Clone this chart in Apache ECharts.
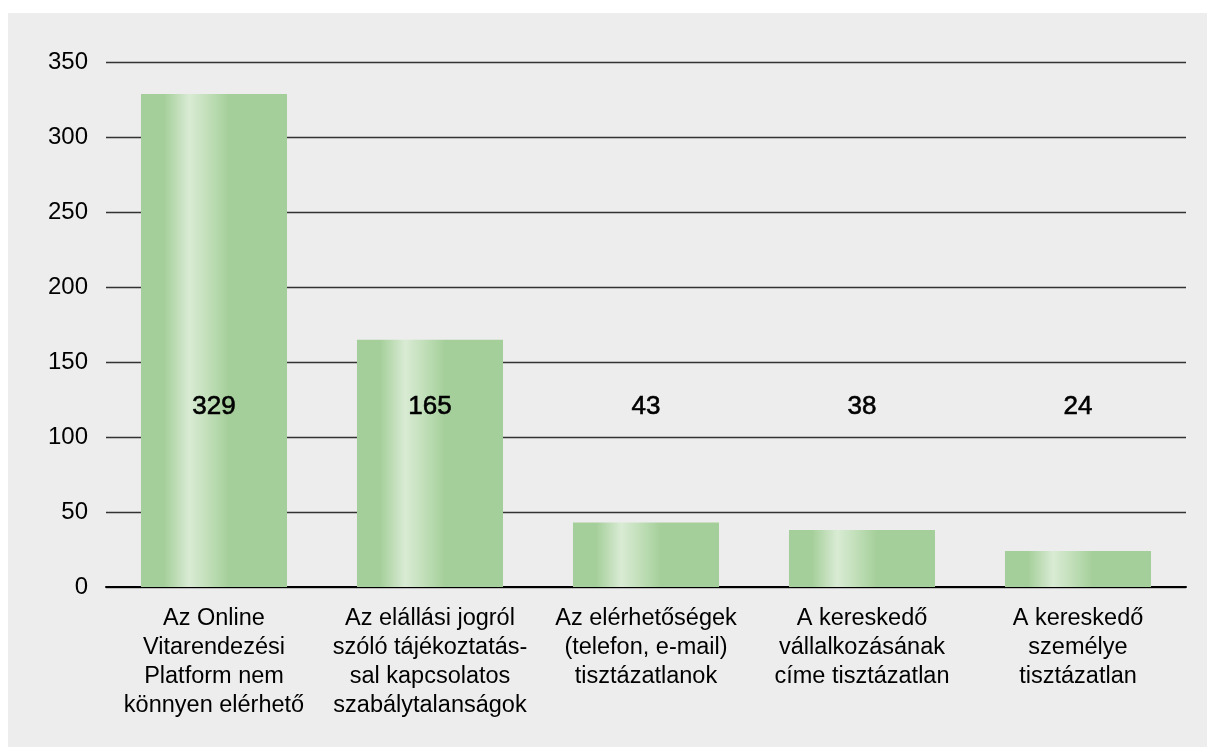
<!DOCTYPE html>
<html>
<head>
<meta charset="utf-8">
<script src="https://cdn.jsdelivr.net/npm/echarts@6/dist/echarts.min.js"></script>
<style>
  html, body { margin: 0; padding: 0; background: #ffffff; }
  #chart { position: absolute; left: 8px; top: 13px; width: 1199px; height: 734px; background: #ededed; }
</style>
</head>
<body>
<div id="chart"></div>
<script>
const categories = [
  'Az Online\nVitarendezési\nPlatform nem\nkönnyen elérhető',
  'Az elállási jogról\nszóló tájékoztatás-\nsal kapcsolatos\nszabálytalanságok',
  'Az elérhetőségek\n(telefon, e-mail)\ntisztázatlanok',
  'A kereskedő\nvállalkozásának\ncíme tisztázatlan',
  'A kereskedő\nszemélye\ntisztázatlan'
]
const values = [329, 165, 43, 38, 24]
// value labels sit on one level across the chart
const labelLevel = 120

const font = '"Liberation Sans", Arial, Helvetica, sans-serif'

const chart = echarts.init(document.getElementById('chart'))

const barFill = new echarts.graphic.LinearGradient(0, 0, 1, 0, [
  { offset: 0, color: '#a5cf9a' },
  { offset: 0.16, color: '#a5cf9a' },
  { offset: 0.33, color: '#d9ebd4' },
  { offset: 0.45, color: '#c3e0bb' },
  { offset: 0.6, color: '#a5cf9a' },
  { offset: 1, color: '#a5cf9a' }
])

chart.setOption({
  animation: false,
  grid: { left: 98, right: 21, top: 49.5, bottom: 160 },
  xAxis: {
    type: 'category',
    data: categories,
    axisTick: { show: false },
    axisLine: { lineStyle: { color: '#000', width: 2 } },
    axisLabel: {
      color: '#000', fontFamily: font, fontSize: 23.5, lineHeight: 29,
      margin: 17, interval: 0
    }
  },
  yAxis: {
    type: 'value',
    min: 0, max: 350, interval: 50,
    axisLine: { show: false },
    axisTick: { show: false },
    axisLabel: { color: '#000', fontFamily: font, fontSize: 24, margin: 18 },
    splitLine: { lineStyle: { color: '#333', width: 1.3 } }
  },
  series: [
    {
      type: 'bar',
      data: values,
      barWidth: '67.6%',
      itemStyle: { color: barFill }
    },
    {
      type: 'scatter',
      data: categories.map((c, i) => [i, labelLevel]),
      symbolSize: 0,
      silent: true,
      z: 5,
      itemStyle: { opacity: 1 },
      label: {
        show: true,
        position: 'inside',
        formatter: p => values[p.dataIndex],
        color: '#000', fontFamily: font, fontSize: 26,
        textBorderColor: '#000', textBorderWidth: 0.6
      }
    }
  ]
})
</script>
</body>
</html>
